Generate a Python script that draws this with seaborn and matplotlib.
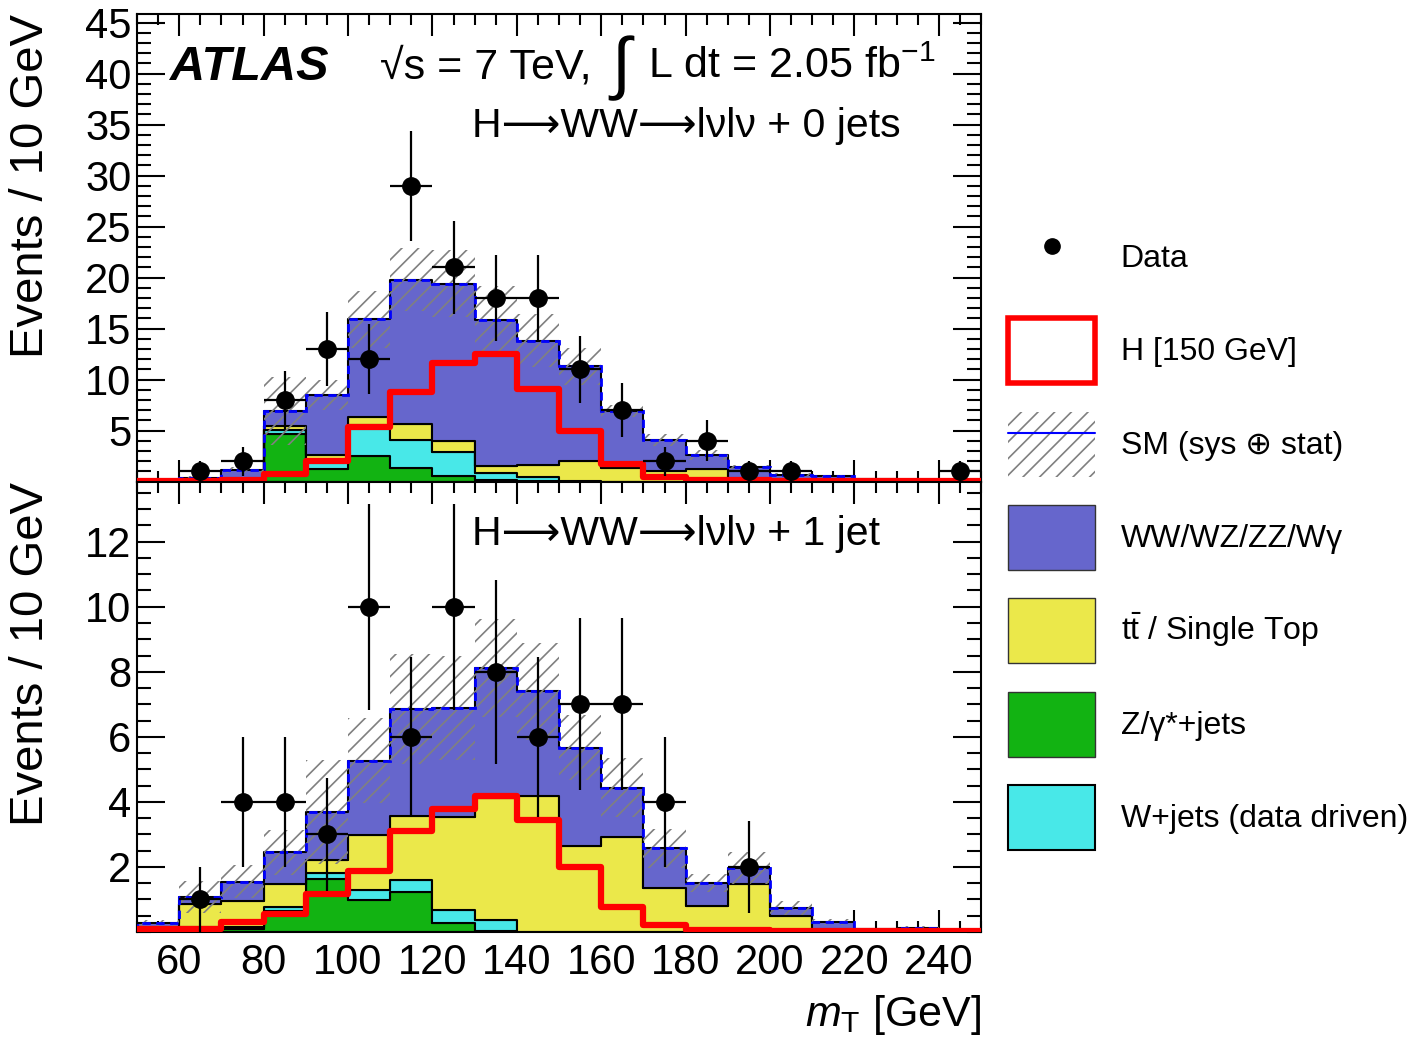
#!/usr/bin/env python3
"""
ATLAS H->WW->lvlv transverse mass distributions (0 jet / 1 jet) with stacked
backgrounds, systematic band, Higgs signal and data.
"""

import numpy as np
import pandas as pd
import matplotlib
matplotlib.use("Agg")
import matplotlib.pyplot as plt
from matplotlib.patches import Patch
from matplotlib.lines import Line2D
from matplotlib.legend_handler import HandlerTuple
from matplotlib.ticker import MultipleLocator
import seaborn as sns

# ---------------------------------------------------------------- data
bin_edges = [50, 60, 70, 80, 90, 100, 110, 120, 130, 140, 150,
             160, 170, 180, 190, 200, 210, 220, 230, 240, 250]

# 0 jets
data_0j = [0, 1, 2, 8, 13, 12, 29, 21, 18, 18, 11, 7, 2, 4, 1, 1, 0, 0, 0, 1]
ww_0j = [0.1, 0.3, 0.95, 1.5, 5.9, 9.6, 14.2, 15.4, 14.25, 12.2, 9.3, 5.55,
         3.1, 1.4, 1.15, 0.55, 0.5, 0.25, 0.1, 0.05]
top_0j = [0, 0, 0.05, 0.35, 0.6, 0.8, 1.55, 1.1, 0.75, 1.15, 1.95, 1.35,
          1.0, 1.2, 0.25, 0.1, 0, 0, 0, 0]
zjets_0j = [0, 0, 0.05, 4.65, 1.2, 2.5, 1.35, 0.55, 0.1, 0.05, 0, 0,
            0, 0, 0, 0, 0, 0, 0, 0]
wjets_0j = [0, 0, 0.05, 0.4, 0.8, 3.0, 2.7, 2.35, 0.7, 0.4, 0.05, 0,
            0, 0, 0, 0, 0, 0, 0, 0]
syst_0j = [0.05, 0.2, 0.3, 3.3, 1.5, 2.8, 3.1, 3.3, 3.4, 2.6, 1.8, 0.6,
           0.6, 0.5, 0.2, 0.15, 0.1, 0.05, 0.03, 0.02]
higgs_0j = [0.05, 0.05, 0.1, 0.75, 2.0, 5.3, 8.8, 11.6, 12.5, 9.1, 5.0, 1.7,
            0.45, 0.15, 0.1, 0.05, 0.05, 0.03, 0.02, 0.02]

# 1 jet
data_1j = [0, 1, 4, 4, 3, 10, 6, 10, 8, 6, 7, 7, 4, 0, 2, 0, 0, 0, 0, 0]
ww_1j = [0.28, 0.21, 0.59, 0.97, 1.48, 2.29, 3.3, 3.37, 3.99, 3.23, 3.02,
         1.53, 1.22, 0.72, 0.49, 0.24, 0.3, 0.08, 0.12, 0.05]
top_1j = [0, 0.71, 0.81, 0.72, 0.4, 1.69, 1.95, 2.84, 3.74, 4.17, 2.64,
          2.91, 1.35, 0.79, 1.48, 0.5, 0, 0, 0, 0]
zjets_1j = [0, 0.1, 0.1, 0.66, 1.63, 0.97, 1.24, 0.27, 0.03, 0, 0,
            0, 0, 0, 0, 0, 0, 0, 0, 0]
wjets_1j = [0, 0.05, 0.05, 0.1, 0.17, 0.32, 0.37, 0.42, 0.35, 0, 0,
            0, 0, 0, 0, 0, 0, 0, 0, 0]
syst_1j = [0.1, 0.5, 0.5, 0.7, 1.6, 1.3, 1.7, 1.6, 1.5, 1.5, 1.0, 0.9,
           0.6, 0.27, 0.5, 0.22, 0.1, 0.03, 0.05, 0.02]
higgs_1j = [0.1, 0.1, 0.3, 0.55, 1.17, 1.89, 3.12, 3.78, 4.19, 3.43, 1.99,
            0.76, 0.2, 0.05, 0.05, 0.03, 0.02, 0.02, 0.02, 0.02]

x_ticks = [60, 80, 100, 120, 140, 160, 180, 200, 220, 240]
y_ticks_0j = [5, 10, 15, 20, 25, 30, 35, 40, 45]
y_ticks_1j = [2, 4, 6, 8, 10, 12]

LAB_WW = "WW/WZ/ZZ/Wγ"
LAB_TOP = r"t$\bar{\mathrm{t}}$ / Single Top"
LAB_Z = "Z/γ*+jets"
LAB_W = "W+jets (data driven)"

colors = {
    LAB_WW: "#6666cc",
    LAB_TOP: "#ebe84a",
    LAB_Z: "#12b312",
    LAB_W: "#48e8e8",
}

# ---------------------------------------------------------------- style
sns.set_style("ticks")
plt.rcParams["font.family"] = ["Liberation Sans", "DejaVu Sans"]
plt.rcParams["mathtext.fontset"] = "custom"
plt.rcParams["mathtext.rm"] = "Liberation Sans"
plt.rcParams["mathtext.it"] = "Liberation Sans:italic"
plt.rcParams["mathtext.bf"] = "Liberation Sans:bold"
plt.rcParams["hatch.linewidth"] = 1.2
for key in ["text.color", "axes.labelcolor", "xtick.color", "ytick.color",
            "axes.edgecolor"]:
    plt.rcParams[key] = "black"

BINW = bin_edges[1] - bin_edges[0]
BINRANGE = (bin_edges[0], bin_edges[-1])


def draw_panel(ax, ww, top, zj, wj, syst, higgs, data):
    edges = np.array(bin_edges, dtype=float)
    centers = 0.5 * (edges[:-1] + edges[1:])

    # stacked backgrounds (first hue level ends on top of the stack)
    frames = []
    for name, vals in [(LAB_WW, ww), (LAB_TOP, top), (LAB_W, wj), (LAB_Z, zj)]:
        frames.append(pd.DataFrame({"mT": centers, "weight": vals, "process": name}))
    df = pd.concat(frames, ignore_index=True)
    sns.histplot(data=df, x="mT", weights="weight", hue="process",
                 hue_order=[LAB_WW, LAB_TOP, LAB_W, LAB_Z], palette=colors,
                 binwidth=BINW, binrange=BINRANGE, multiple="stack",
                 element="step", fill=True, alpha=1, edgecolor="black",
                 linewidth=1.5, legend=False, ax=ax)

    total = np.array(ww) + np.array(top) + np.array(zj) + np.array(wj)
    lo = np.clip(total - np.array(syst), 0, None)
    hi = total + np.array(syst)

    # uncertainty band
    ax.bar(edges[:-1], hi - lo, bottom=lo, width=BINW, align="edge", fill=False,
           hatch="//", edgecolor="#808080", linewidth=0, zorder=3)
    # SM total
    ax.stairs(total, edges, color="blue", linewidth=2, linestyle=(0, (3, 2)),
              zorder=4)
    # Higgs signal
    hdf = pd.DataFrame({"mT": centers, "weight": higgs})
    sns.histplot(data=hdf, x="mT", weights="weight", binwidth=BINW,
                 binrange=BINRANGE, element="step", fill=False, color="red",
                 linewidth=4.5, ax=ax, zorder=5)
    # data
    d = np.array(data, dtype=float)
    m = d > 0
    ax.errorbar(centers[m], d[m], yerr=np.sqrt(d[m]), xerr=BINW / 2, fmt="o",
                color="black", markersize=12.5, elinewidth=1.6, capsize=0,
                zorder=6)

    ax.set_xlim(*BINRANGE)
    ax.set_xticks(x_ticks)
    ax.xaxis.set_minor_locator(MultipleLocator(5))
    ax.tick_params(which="both", direction="in", top=True, right=True,
                   width=1.5, labelsize=30, color="black")
    ax.tick_params(axis="x", which="major", length=16, pad=8)
    ax.tick_params(axis="x", which="minor", length=8)
    ax.tick_params(axis="y", which="major", length=20, pad=4)
    ax.tick_params(axis="y", which="minor", length=10)
    for s in ax.spines.values():
        s.set_linewidth(1.5)
        s.set_color("black")
    ax.set_xlabel("")
    ax.set_ylabel("Events / 10 GeV", fontsize=34, loc="top")
    ax.yaxis.set_label_coords(-0.10, 1.0)


fig = plt.figure(figsize=(14.12, 10.37), dpi=100)
ax_top = fig.add_axes([137 / 1412, 1 - 481.5 / 1037, 844 / 1412, 467.5 / 1037])
ax_bot = fig.add_axes([137 / 1412, 1 - 932 / 1037, 844 / 1412, 450.5 / 1037])

draw_panel(ax_top, ww_0j, top_0j, zjets_0j, wjets_0j, syst_0j, higgs_0j, data_0j)
draw_panel(ax_bot, ww_1j, top_1j, zjets_1j, wjets_1j, syst_1j, higgs_1j, data_1j)

ax_top.set_ylim(0, 45.85)
ax_top.set_yticks(y_ticks_0j)
ax_top.yaxis.set_minor_locator(MultipleLocator(1))
ax_top.tick_params(axis="x", labelbottom=False)

ax_bot.set_ylim(0, 13.85)
ax_bot.set_yticks(y_ticks_1j)
ax_bot.yaxis.set_minor_locator(MultipleLocator(0.5))
ax_bot.set_xlabel(r"$m_{\mathrm{T}}$ [GeV]", fontsize=31, loc="right")
ax_bot.xaxis.set_label_coords(1.0, -0.135)

# labels in panels
ax_top.text(0.039, 0.859, "ATLAS", transform=ax_top.transAxes, fontsize=35,
            fontweight="bold", fontstyle="italic", va="baseline")
ax_top.text(0.288, 0.863, "√s = 7 TeV,", transform=ax_top.transAxes,
            fontsize=31, va="baseline")
ax_top.text(0.562, 0.845, "∫", transform=ax_top.transAxes, fontsize=50,
            va="baseline")
ax_top.text(0.606, 0.863, r"L dt = 2.05 fb$^{-1}$", transform=ax_top.transAxes,
            fontsize=31, va="baseline")
ax_top.text(0.397, 0.737, "H⟶WW⟶lνlν + 0 jets", transform=ax_top.transAxes,
            fontsize=29.5, va="baseline")
ax_bot.text(0.397, 0.859, "H⟶WW⟶lνlν + 1 jet", transform=ax_bot.transAxes,
            fontsize=29.5, va="baseline")

# legend
handles = [
    Line2D([], [], marker="o", color="black", linestyle="none", markersize=11),
    Patch(facecolor="white", edgecolor="red", linewidth=4),
    (Patch(fill=False, hatch="//", edgecolor="#808080", linewidth=0),
     Line2D([], [], color="blue", linewidth=1.5)),
    Patch(facecolor=colors[LAB_WW], edgecolor="#333333", linewidth=1),
    Patch(facecolor=colors[LAB_TOP], edgecolor="#333333", linewidth=1),
    Patch(facecolor=colors[LAB_Z], edgecolor="#333333", linewidth=1),
    Patch(facecolor=colors[LAB_W], edgecolor="black", linewidth=1.5),
]
labels = ["Data", "H [150 GeV]", "SM (sys ⊕ stat)", LAB_WW, LAB_TOP, LAB_Z, LAB_W]
fig.legend(handles, labels, loc="upper left",
           bbox_to_anchor=(1008 / 1412, 1 - 225 / 1037),
           frameon=False, fontsize=23, handlelength=2.73, handleheight=2.75,
           labelspacing=0.89, handletextpad=0.8, borderpad=0,
           borderaxespad=0, handler_map={tuple: HandlerTuple(ndivide=1)})

fig.savefig("out.png", dpi=100)
